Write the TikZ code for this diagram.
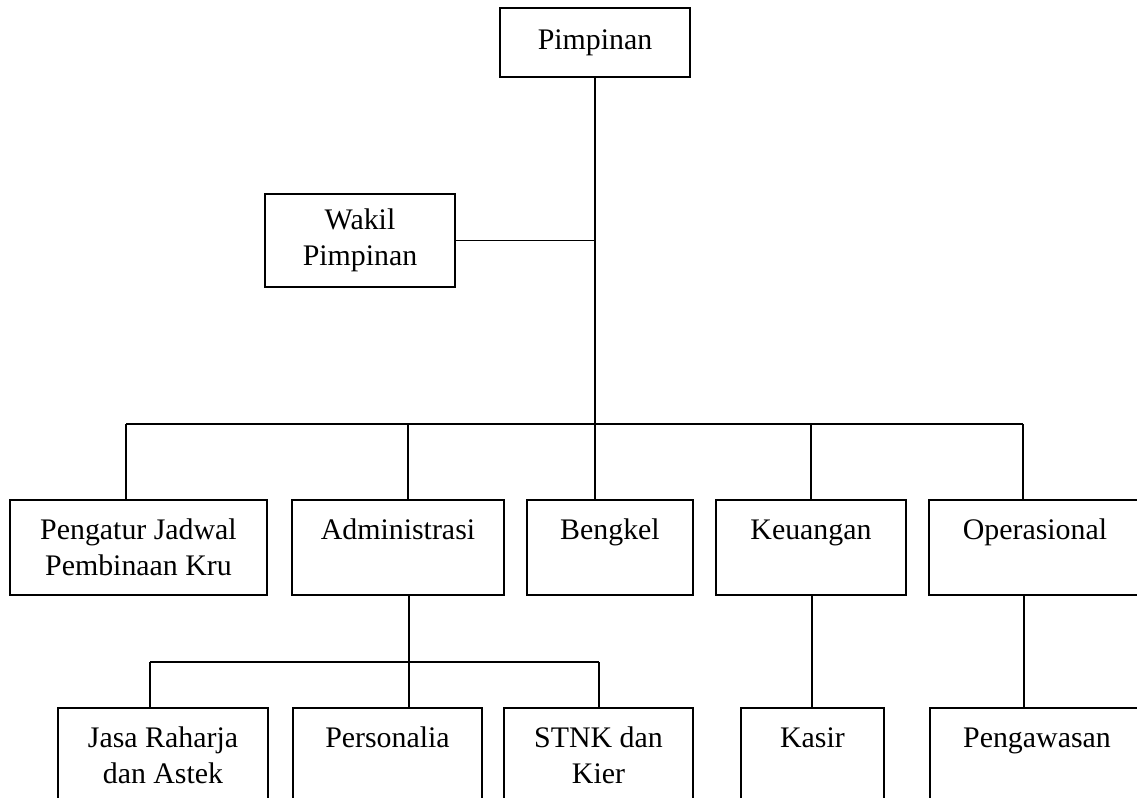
\documentclass[tikz,border=0pt]{standalone}
\usepackage{fontspec}
\setmainfont{Liberation Serif}
\begin{document}
\begin{tikzpicture}[x=0.02cm,y=-0.02cm,
  box/.style={draw, line width=0.9pt, inner sep=0pt, align=center,
    font=\fontsize{17}{20.5}\selectfont, minimum height=1.9cm},
  conn/.style={line width=0.9pt}]
\useasboundingbox (0,0) rectangle (1137,798);
\clip (0,0) rectangle (1137,798);
\fill[white] (0,0) rectangle (1137,798);
% boxes
\node[box, minimum width=3.8cm, minimum height=1.38cm] (pim) at (595,42.5) {Pimpinan};
\node[box, minimum width=3.8cm, minimum height=1.86cm] (wak) at (360,240.5) {Wakil\\Pimpinan};
\node[box, minimum width=5.14cm] (peng) at (138.5,547.5) {Pengatur Jadwal\\Pembinaan Kru};
\node[box, minimum width=4.24cm] (adm) at (398,547.5) {Administrasi\\\mbox{}};
\node[box, minimum width=3.32cm] (ben) at (610,547.5) {Bengkel\\\mbox{}};
\node[box, minimum width=3.8cm] (keu) at (811,547.5) {Keuangan\\\mbox{}};
\node[box, minimum width=4.24cm] (ops) at (1035,547.5) {Operasional\\\mbox{}};
\node[box, minimum width=4.2cm] (jasa) at (163,755.5) {Jasa Raharja\\dan Astek};
\node[box, minimum width=3.78cm] (pers) at (387.5,755.5) {Personalia\\\mbox{}};
\node[box, minimum width=3.78cm] (stnk) at (598.5,755.5) {STNK dan\\Kier};
\node[box, minimum width=2.86cm] (kas) at (812.5,755.5) {Kasir\\\mbox{}};
\node[box, minimum width=4.28cm] (pgw) at (1037,755.5) {Pengawasan\\\mbox{}};
% bus coordinates
\coordinate (b1) at (126,424);
\coordinate (b2) at (408,424);
\coordinate (b4) at (811,424);
\coordinate (b5) at (1023,424);
\coordinate (a0) at (409,662);
\coordinate (a1) at (150,662);
\coordinate (a3) at (599,662);
\coordinate (k0) at (812,600);
\coordinate (o0) at (1024,600);
% connectors
\draw[conn] (pim.south) -- (pim.south |- ben.north);
\draw[conn] (wak.east) -- (wak.east -| pim.south);
\draw[conn] (b1) -- (b5);
\draw[conn] (b1) -- (b1 |- peng.north);
\draw[conn] (b2) -- (b2 |- adm.north);
\draw[conn] (b4) -- (b4 |- keu.north);
\draw[conn] (b5) -- (b5 |- ops.north);
\draw[conn] (a0 |- adm.south) -- (a0);
\draw[conn] (a1) -- (a3);
\draw[conn] (a1) -- (a1 |- jasa.north);
\draw[conn] (a0) -- (a0 |- pers.north);
\draw[conn] (a3) -- (a3 |- stnk.north);
\draw[conn] (k0 |- keu.south) -- (k0 |- kas.north);
\draw[conn] (o0 |- ops.south) -- (o0 |- pgw.north);
\end{tikzpicture}
\end{document}
